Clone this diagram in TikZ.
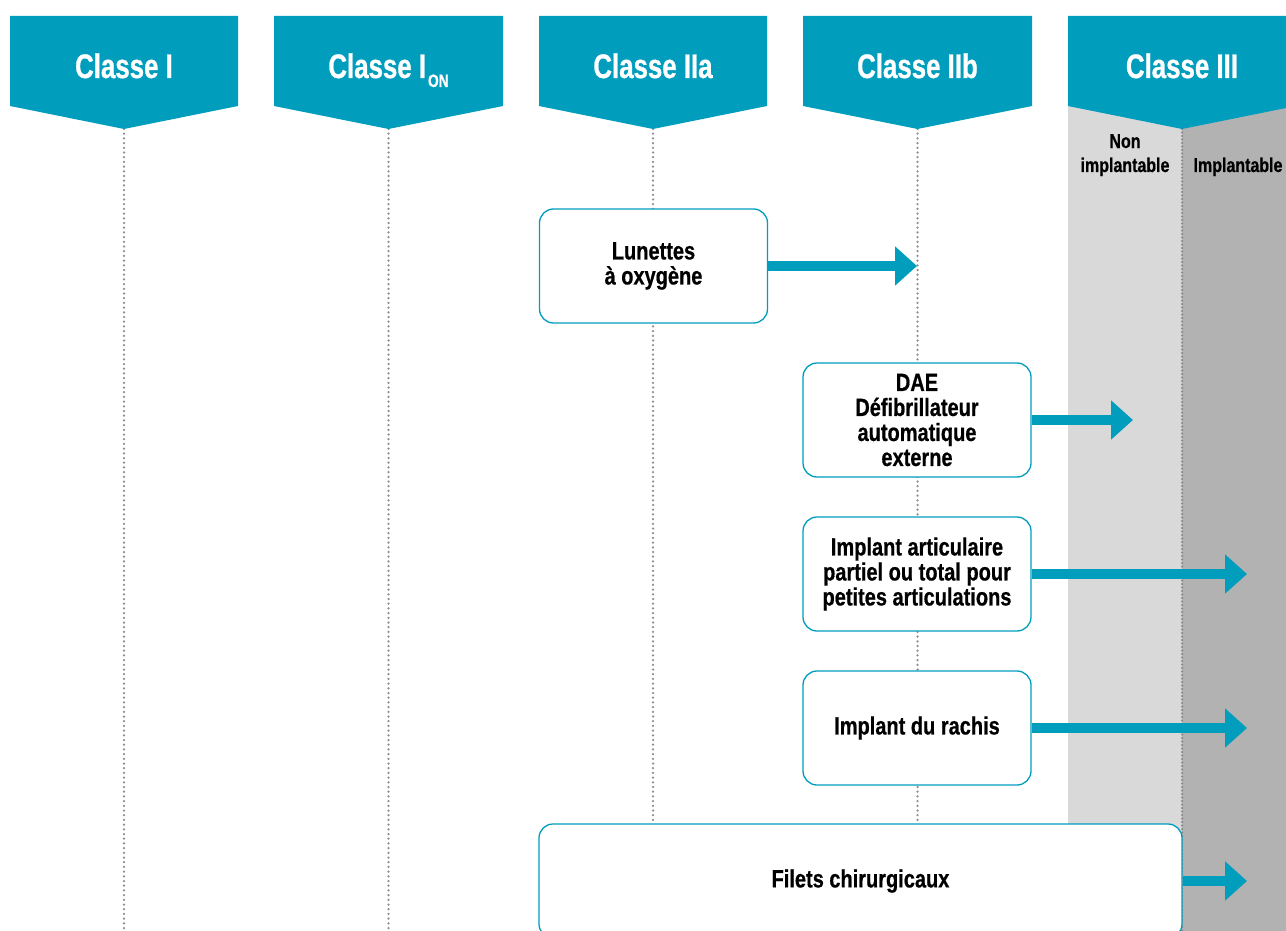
\documentclass[tikz,border=0pt]{standalone}
\usepackage{fontspec}
\setmainfont{Liberation Sans}[FakeStretch=0.8, FakeBold=0.6]
\newfontfamily\hdrfont{Liberation Sans}[FakeStretch=0.76, FakeBold=0.8]
\usetikzlibrary{arrows.meta}
\definecolor{mteal}{RGB}{0,157,189}
\definecolor{lgray}{RGB}{217,217,217}
\definecolor{dgray}{RGB}{178,178,178}
\definecolor{dotgray}{RGB}{140,140,140}
\tikzset{
  hdrshape/.style={fill=mteal, draw=none},
  hdrtext/.style={text=white, inner sep=0pt, anchor=base, font=\hdrfont\bfseries\fontsize{34}{38}\selectfont},
  devbox/.style={draw=mteal, line width=1.3pt, rounded corners=14pt, fill=white,
     minimum width=228pt, minimum height=114pt, align=center, inner sep=0pt,
     font=\bfseries\fontsize{25}{25}\selectfont},
  guide/.style={draw=dotgray, line width=2.5pt, dash pattern=on 0pt off 4.7pt, line cap=round},
  flow/.style={draw=mteal, line width=10.5pt, -{Triangle[length=22pt,width=38pt]}},
  sublabel/.style={inner sep=0pt, anchor=base, align=center, font=\bfseries\fontsize{20}{24}\selectfont}
}
\begin{document}
\begin{tikzpicture}[x=1pt,y=-1pt]
\useasboundingbox (0,0) rectangle (1286,931);
% gray columns of Classe III
\fill[lgray] (1068,100) rectangle (1182,931);
\fill[dgray] (1182,100) rectangle (1286,931);
% header tips
\coordinate (p1) at (124,129);
\coordinate (p2) at (388.5,129);
\coordinate (p3) at (653,129);
\coordinate (p4) at (917.5,129);
\coordinate (p5) at (1182,129);
\coordinate (b1) at (124,931);
\coordinate (b2) at (388.5,931);
\coordinate (b3) at (653,824);
\coordinate (b4) at (917.5,824);
\coordinate (b5) at (1182,931);
% guide lines
\draw[guide] (p1) -- (b1);
\draw[guide] (p2) -- (b2);
\draw[guide] (p3) -- (b3);
\draw[guide] (p4) -- (b4);
\draw[guide, draw=black!45, dash pattern=on 0pt off 3.5pt] (p5) -- (b5);
% headers
\fill[hdrshape] (10,16) -- (238,16) -- (238,106) -- (p1) -- (10,106) -- cycle;
\fill[hdrshape] (274,16) -- (503,16) -- (503,106) -- (p2) -- (274,106) -- cycle;
\fill[hdrshape] (539,16) -- (767,16) -- (767,106) -- (p3) -- (539,106) -- cycle;
\fill[hdrshape] (803,16) -- (1032,16) -- (1032,106) -- (p4) -- (803,106) -- cycle;
\fill[hdrshape] (1068,16) -- (1296,16) -- (1296,106) -- (p5) -- (1068,106) -- cycle;
\node[hdrtext] (h1) at (124,78) {Classe I};
\node[hdrtext] (h2) at (388.5,78) {Classe I\kern2pt\raisebox{-9pt}{\fontsize{18}{18}\selectfont ON}};
\node[hdrtext] (h3) at (653,78) {Classe IIa};
\node[hdrtext] (h4) at (917.5,78) {Classe IIb};
\node[hdrtext] (h5) at (1182,78) {Classe III};
% sub labels
\node[sublabel] (nonimp) at (1125,172) {Non\\implantable};
\node[sublabel] (imp) at (1238,172) {Implantable};
% device boxes
\node[devbox] (lun) at (653.5,266) {Lunettes\\à oxygène};
\node[devbox] (dae) at (917,420) {DAE\\Défibrillateur\\automatique\\externe};
\node[devbox] (art) at (917,574) {Implant articulaire\\partiel ou total pour\\petites articulations};
\node[devbox] (rach) at (917,728) {Implant du rachis};
\node[devbox, minimum width=643pt] (fil) at (860.5,881) {Filets chirurgicaux};
% arrow tips
\coordinate (t1) at (917,266);
\coordinate (t2) at (1133,420);
\coordinate (t3) at (1247,574);
\coordinate (t4) at (1247,728);
\coordinate (t5) at (1247,881);
\draw[flow] (lun.east) -- (t1);
\draw[flow] (dae.east) -- (t2);
\draw[flow] (art.east) -- (t3);
\draw[flow] (rach.east) -- (t4);
\draw[flow] (fil.east) -- (t5);
\end{tikzpicture}
\end{document}
